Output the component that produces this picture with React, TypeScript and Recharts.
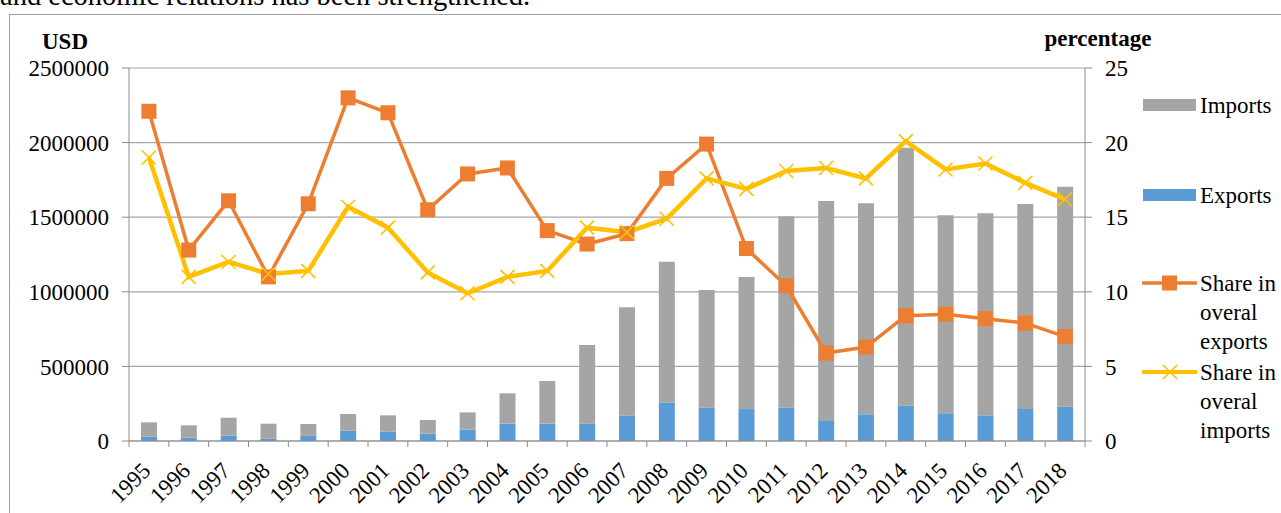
import React from 'react';
import {
  ComposedChart,
  Bar,
  Line,
  XAxis,
  YAxis,
  CartesianGrid,
} from 'recharts';

// values
const years = [
  '1995', '1996', '1997', '1998', '1999', '2000', '2001', '2002', '2003', '2004', '2005', '2006',
  '2007', '2008', '2009', '2010', '2011', '2012', '2013', '2014', '2015', '2016', '2017', '2018',
];
const exportsUsd = [
  29000, 22000, 36000, 15000, 34000, 69000, 62000, 49000, 76000, 116000, 116000, 116000,
  170000, 259000, 223000, 214000, 223000, 139000, 179000, 237000, 186000, 172000, 214000, 230000,
];
const importsUsd = [
  96000, 83000, 120000, 101000, 80000, 112000, 110000, 92000, 116000, 204000, 286000, 527000,
  726000, 943000, 789000, 885000, 1283000, 1469000, 1414000, 1729000, 1327000, 1354000, 1374000, 1474000,
];
const shareExports = [
  22.1, 12.8, 16.1, 11.0, 15.9, 23.0, 22.0, 15.5, 17.9, 18.3, 14.1, 13.2,
  13.9, 17.6, 19.9, 12.9, 10.4, 5.9, 6.3, 8.4, 8.5, 8.2, 7.9, 7.0,
];
const shareImports = [
  19.0, 11.0, 12.0, 11.2, 11.4, 15.7, 14.3, 11.3, 9.9, 11.0, 11.4, 14.3,
  14.0, 14.9, 17.6, 16.9, 18.1, 18.3, 17.6, 20.1, 18.2, 18.6, 17.3, 16.2,
];
const usdTicks = [0, 500000, 1000000, 1500000, 2000000, 2500000];
const pctTicks = [0, 5, 10, 15, 20, 25];

const FONT = '"Liberation Serif", "Times New Roman", serif';
const GRAY = '#A5A5A5';
const BLUE = '#5B9BD5';
const ORANGE = '#ED7D31';
const YELLOW = '#FFC000';
const AXIS = '#8C8C8C';

const W = 1281;
const H = 513;
const PLOT_LEFT = 129;
const PLOT_RIGHT = 1085;
const PLOT_TOP = 68;
const PLOT_BOTTOM = 441;
const HALF_BAND = (PLOT_RIGHT - PLOT_LEFT) / years.length / 2;

const data = years.map((year, i) => ({
  year,
  exports: exportsUsd[i],
  imports: importsUsd[i],
  shareExports: shareExports[i],
  shareImports: shareImports[i],
}));

const SquareDot = ({ cx, cy }: any) =>
  cx == null ? null : <rect x={cx - 7.5} y={cy - 7.5} width={15} height={15} fill={ORANGE} />;

const CrossDot = ({ cx, cy }: any) =>
  cx == null ? null : (
    <g stroke={YELLOW} strokeWidth={1.6}>
      <line x1={cx - 7} y1={cy - 7} x2={cx + 7} y2={cy + 7} />
      <line x1={cx - 7} y1={cy + 7} x2={cx + 7} y2={cy - 7} />
    </g>
  );

// year labels rotated like Excel, with tick marks between categories
const YearTick = ({ x, index, payload }: any) => {
  const y = PLOT_BOTTOM;
  const tx = x + 3;
  const ty = y + 31;
  return (
    <g>
      <line x1={x - HALF_BAND} y1={y} x2={x - HALF_BAND} y2={y + 6} stroke={AXIS} />
      {index === years.length - 1 && (
        <line x1={x + HALF_BAND} y1={y} x2={x + HALF_BAND} y2={y + 6} stroke={AXIS} />
      )}
      <text
        x={tx}
        y={ty}
        textAnchor="end"
        transform={`rotate(-45, ${tx}, ${ty})`}
        fontFamily={FONT}
        fontSize={23}
        fill="#000"
      >
        {payload.value}
      </text>
    </g>
  );
};

const legendItems = [
  { kind: 'bar', color: GRAY, lines: ['Imports'], y: 105 },
  { kind: 'bar', color: BLUE, lines: ['Exports'], y: 195 },
  { kind: 'square', color: ORANGE, lines: ['Share in', 'overal', 'exports'], y: 283 },
  { kind: 'cross', color: YELLOW, lines: ['Share in', 'overal', 'imports'], y: 372 },
];

function ChartLegend() {
  return (
    <svg width={W} height={H} style={{ position: 'absolute', left: 0, top: 0, pointerEvents: 'none' }}>
      {legendItems.map((item) => (
        <g key={item.lines.join(' ')}>
          {item.kind === 'bar' && <rect x={1143} y={item.y - 6} width={53} height={12} fill={item.color} />}
          {item.kind === 'square' && (
            <>
              <line x1={1142} y1={item.y} x2={1197} y2={item.y} stroke={item.color} strokeWidth={3.5} />
              <rect x={1162} y={item.y - 7.5} width={15} height={15} fill={item.color} />
            </>
          )}
          {item.kind === 'cross' && (
            <>
              <line x1={1142} y1={item.y} x2={1197} y2={item.y} stroke={item.color} strokeWidth={4} />
              <g stroke={item.color} strokeWidth={1.6}>
                <line x1={1163} y1={item.y - 7} x2={1177} y2={item.y + 7} />
                <line x1={1163} y1={item.y + 7} x2={1177} y2={item.y - 7} />
              </g>
            </>
          )}
          {item.lines.map((t, j) => (
            <text key={t} x={1200} y={item.y + 8 + j * 29} fontFamily={FONT} fontSize={23} fill="#000">
              {t}
            </text>
          ))}
        </g>
      ))}
    </svg>
  );
}

export default function App() {
  return (
    <div style={{ position: 'absolute', left: 0, top: 0, width: W, height: H, background: '#fff', overflow: 'hidden' }}>
      <svg width={W} height={H} style={{ position: 'absolute', left: 0, top: 0 }}>
        <text x={0} y={5} fontFamily={FONT} fontSize={28.5} fill="#000">
          and economic relations has been strengthened.
        </text>
        <rect x={9.5} y={14.5} width={W} height={H} fill="none" stroke="#A0A0A0" />
        <text x={65} y={49} textAnchor="middle" fontFamily={FONT} fontSize={23} fontWeight="bold" fill="#000">
          USD
        </text>
        <text x={1098} y={46} textAnchor="middle" fontFamily={FONT} fontSize={23} fontWeight="bold" fill="#000">
          percentage
        </text>
      </svg>
      <div style={{ position: 'absolute', left: 0, top: 0 }}>
        <ComposedChart
          width={W}
          height={H}
          data={data}
          margin={{ top: PLOT_TOP, right: W - PLOT_RIGHT - 60, bottom: H - PLOT_BOTTOM - 60, left: PLOT_LEFT - 100 }}
        >
          <CartesianGrid yAxisId="left" vertical={false} stroke="#A6A6A6" strokeWidth={1.2} />
          <XAxis
            dataKey="year"
            height={60}
            interval={0}
            axisLine={{ stroke: AXIS }}
            tickLine={false}
            tickSize={0}
            tick={<YearTick />}
          />
          <YAxis
            yAxisId="left"
            width={100}
            domain={[0, 2500000]}
            ticks={usdTicks}
            interval={0}
            axisLine={{ stroke: AXIS }}
            tickLine={{ stroke: AXIS }}
            tickSize={7}
            tickMargin={13}
            tick={{ fontFamily: FONT, fontSize: 23, fill: '#000' }}
          />
          <YAxis
            yAxisId="right"
            orientation="right"
            width={60}
            domain={[0, 25]}
            ticks={pctTicks}
            interval={0}
            axisLine={{ stroke: AXIS }}
            tickLine={{ stroke: AXIS }}
            tickSize={7}
            tickMargin={13}
            tick={{ fontFamily: FONT, fontSize: 23, fill: '#000' }}
          />
          <Bar yAxisId="left" dataKey="exports" name="Exports" stackId="trade" fill={BLUE} barSize={16} isAnimationActive={false} />
          <Bar yAxisId="left" dataKey="imports" name="Imports" stackId="trade" fill={GRAY} barSize={16} isAnimationActive={false} />
          <Line
            yAxisId="right"
            dataKey="shareExports"
            name="Share in overal exports"
            stroke={ORANGE}
            strokeWidth={3.5}
            dot={<SquareDot />}
            activeDot={false}
            isAnimationActive={false}
          />
          <Line
            yAxisId="right"
            dataKey="shareImports"
            name="Share in overal imports"
            stroke={YELLOW}
            strokeWidth={4.5}
            dot={<CrossDot />}
            activeDot={false}
            isAnimationActive={false}
          />
        </ComposedChart>
      </div>
      <ChartLegend />
    </div>
  );
}
